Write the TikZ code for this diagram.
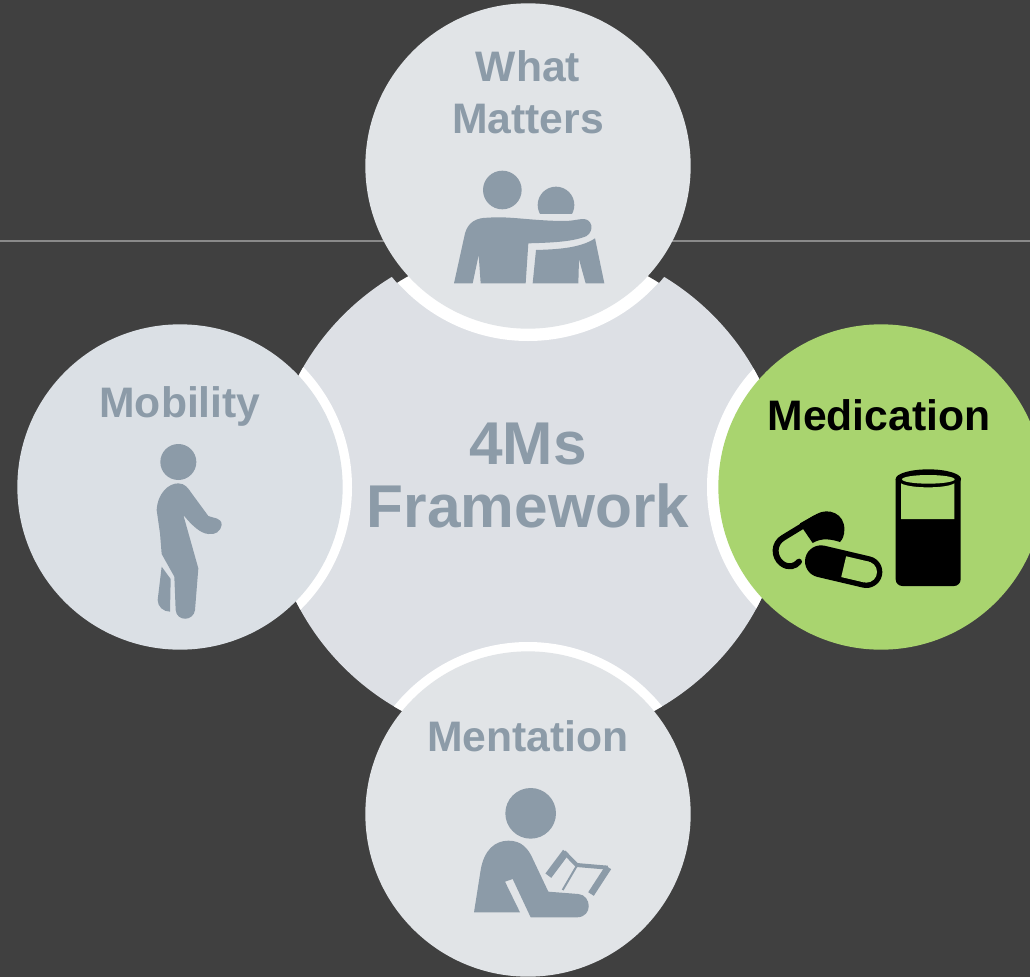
\documentclass[tikz,border=0pt]{standalone}
\usepackage{fontspec}
\setmainfont{Liberation Sans}
\definecolor{bgdark}{HTML}{404040}
\definecolor{hair}{HTML}{8A8A8A}
\definecolor{bigc}{HTML}{DDE0E5}
\definecolor{smallc}{HTML}{E1E4E7}
\definecolor{leftc}{HTML}{DBE0E5}
\definecolor{greenc}{HTML}{A9D46F}
\definecolor{iconc}{HTML}{8C9BA8}
\tikzset{
  px/.style={x=0.75pt,y=-0.75pt},
  disc/.style={circle,inner sep=0pt,minimum size=244pt,draw=none},
  lab/.style={anchor=base,text=iconc,font=\bfseries\fontsize{32}{36}\selectfont,inner sep=0pt},
  biglab/.style={anchor=base,text=iconc,font=\bfseries\fontsize{45.3}{50}\selectfont,inner sep=0pt},
  zm/.style={shift={#1},scale=1/3},
  ic/.style={fill=iconc,draw=none},
}
\begin{document}
\begin{tikzpicture}[px]
\useasboundingbox (0,0) rectangle (1030,977);
\fill[bgdark] (0,0) rectangle (1030,977);
\draw[hair,line width=0.8pt] (0,241) -- (1030,241);
\coordinate (cc) at (528,491);
\coordinate (ct) at (528,166);
\coordinate (cb) at (528,814);
\coordinate (cl) at (180,487);
\coordinate (cr) at (881,487);
% central disc and white rings
\fill[bigc] (cc) ellipse (258 and 252);
\begin{scope}
  \clip (cc) ellipse (258 and 252);
  \fill[white] (ct) circle (175);
  \fill[white] (cb) circle (172);
  \fill[white] (cl) circle (172);
  \fill[white] (cr) circle (174);
\end{scope}
% dark notches at the two ends of the top ring, outside the truncating radius
\begin{scope}
  \clip (ct) circle (175.5);
  \path[fill=bgdark,even odd rule] (cc) circle (246) (cc) circle (262);
\end{scope}
% outer discs
\begin{scope}
\clip (0,0) rectangle (1030,977);
\node[disc,fill=smallc] (top) at (ct) {};
\node[disc,fill=smallc] (bottom) at (cb) {};
\node[disc,fill=leftc] (left) at (cl) {};
\node[disc,fill=greenc] (right) at (cr) {};
\end{scope}
% texts
\node[lab] (what) at (528,82) {What};
\node[lab] (matters) at (528,133) {Matters};
\node[lab] (mobility) at (180,417) {Mobility};
\node[lab] (mentation) at (528,751) {Mentation};
\node[lab,text=black] (medication) at (879,430) {Medication};
\node[biglab] (fourm) at (528,464) {4Ms};
\node[biglab] (framework) at (528,527) {Framework};
% couple icon
\begin{scope}[zm={(430,150)}]
  \fill[iconc] (217,120) circle (58);
  \begin{scope}
    \clip (300,100) rectangle (450,190);
    \fill[iconc] (378,165) circle (55);
  \end{scope}
  \path[ic] (72,400) -- (105,250) .. controls (115,215) and (140,203) .. (175,203)
    .. controls (240,198) and (300,212) .. (400,213) .. controls (430,213) and (445,207) .. (460,207)
    .. controls (485,207) and (495,240) .. (470,258) .. controls (430,275) and (370,278) .. (295,280)
    -- (287,400) -- (152,400) -- (146,315) -- (128,400) -- cycle;
  \path[ic] (318,300) .. controls (380,298) and (450,295) .. (495,265) -- (523,400) -- (467,400)
    -- (447,328) -- (445,400) -- (308,400) -- cycle;
\end{scope}
% walker icon
\begin{scope}[zm={(130,430)}]
  \fill[iconc] (145,96) circle (54);
  \path[ic] (80,240) .. controls (83,190) and (115,160) .. (145,160)
    .. controls (165,160) and (175,175) .. (185,190) -- (235,258)
    .. controls (250,265) and (275,262) .. (275,285) .. controls (272,305) and (255,315) .. (235,312)
    .. controls (210,310) and (185,285) .. (160,255) -- (205,415) -- (195,540)
    .. controls (190,575) and (140,575) .. (137,540) -- (133,440) -- (95,372) -- (90,310) -- cycle;
  \path[ic] (95,410) -- (122,447) -- (120,545) .. controls (100,545) and (83,530) .. (83,510) -- cycle;
\end{scope}
% reader icon
\begin{scope}[zm={(460,780)}]
  \fill[iconc] (212,100) circle (76);
  \path[ic] (42,397) -- (62,270) .. controls (72,210) and (105,182) .. (145,182)
    .. controls (185,182) and (205,205) .. (220,240) -- (265,335) -- (355,342)
    .. controls (395,345) and (400,412) .. (350,412) -- (212,412) -- (158,297) -- (135,305) -- (180,397) -- cycle;
  \draw[iconc,line width=5.5pt] (265,287) -- (318,216);
  \draw[iconc,line width=3pt,line join=round] (312,216) -- (350,255) -- (443,263);
  \draw[iconc,line width=5pt] (445,262) -- (393,342);
  \draw[iconc,line width=1.5pt] (350,258) -- (308,330);
\end{scope}
% medication icon
\begin{scope}[zm={(750,450)}]
  \fill[black] (437,87) -- (632,87) -- (632,388) .. controls (632,400) and (622,408) .. (612,408)
     -- (457,408) .. controls (447,408) and (437,400) .. (437,388) -- cycle;
  \fill[black] (535,87) ellipse (98 and 29);
  \fill[greenc] (535,88) ellipse (79 and 13);
  \fill[greenc] (453,100) .. controls (480,116) and (590,116) .. (613,100) -- (613,207) -- (453,207) -- cycle;
  % second capsule
  \draw[black,line width=24pt,line cap=round] (213,334) -- (349,366);
  \draw[greenc,line width=16pt] (281,350) -- (349,366);
  \fill[greenc] (349,366) circle (32);
  % first capsule
  \draw[black,line width=4.5pt,line cap=round,line join=round] (195,205) -- (100,263)
     .. controls (70,280) and (70,320) .. (95,340) .. controls (115,355) and (135,350) .. (147,335);
  \fill[black] (160,238) -- (150,220) -- (200,192) .. controls (235,172) and (285,190) .. (283,240)
     .. controls (283,255) and (278,268) .. (270,276) .. controls (245,268) and (215,262) .. (188,279) -- cycle;
\end{scope}
\end{tikzpicture}
\end{document}
